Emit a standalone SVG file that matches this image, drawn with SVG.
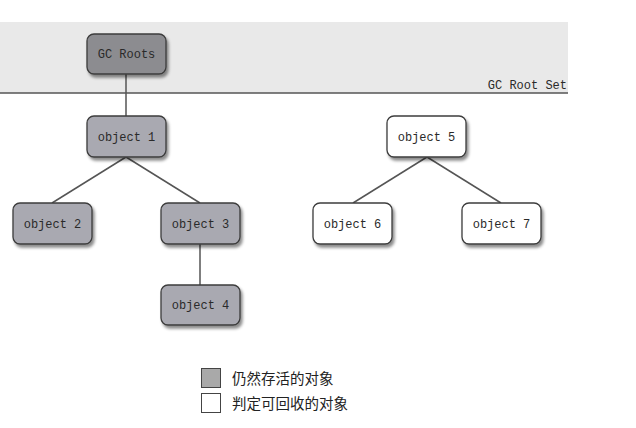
<svg xmlns="http://www.w3.org/2000/svg" width="636" height="428" viewBox="0 0 636 428">
  <defs>
    <filter id="shadow" x="-20%" y="-20%" width="140%" height="150%">
      <feDropShadow dx="2" dy="3" stdDeviation="1.6" flood-color="#000" flood-opacity="0.45"/>
    </filter>
  </defs>
  <style>
    .node rect { stroke: #3c3c3c; stroke-width: 1.3; filter: url(#shadow); }
    .live rect { fill: #a9a9b1; }
    .root rect { fill: #8c8c90; }
    .dead rect { fill: #ffffff; }
    .label { font-family: "Liberation Mono", "DejaVu Sans Mono", monospace; font-size: 12px; fill: #2a2a2a; text-anchor: middle; }
    .edge { stroke: #555; stroke-width: 1.5; fill: none; }
    .legend { font-family: "Noto Sans CJK SC", "Liberation Sans", sans-serif; font-size: 14.5px; fill: #222; }
  </style>
  <rect width="636" height="428" fill="#ffffff"/>
  <!-- root set band -->
  <rect x="0" y="22" width="568" height="71" fill="#e9e9e9"/>
  <line x1="0" y1="93" x2="568" y2="93" stroke="#555" stroke-width="1.5"/>
  <text x="567" y="89" class="label" style="text-anchor:end">GC Root Set</text>

  <g id="connectors">
    <line class="edge" x1="126" y1="73" x2="126" y2="116"/>
    <line class="edge" x1="126" y1="157" x2="52" y2="203"/>
    <line class="edge" x1="126" y1="157" x2="200" y2="203"/>
    <line class="edge" x1="200" y1="244" x2="200" y2="285"/>
    <line class="edge" x1="427" y1="157" x2="353" y2="203"/>
    <line class="edge" x1="427" y1="157" x2="501" y2="203"/>
  </g>

  <g id="gc-roots" class="node root">
    <rect x="87" y="34" width="79" height="40" rx="7"/>
    <text x="126.5" y="58" class="label">GC Roots</text>
  </g>
  <g id="object-1" class="node live">
    <rect x="87" y="116" width="79" height="41" rx="7"/>
    <text x="126.5" y="141" class="label">object 1</text>
  </g>
  <g id="object-2" class="node live">
    <rect x="13" y="203" width="79" height="41" rx="7"/>
    <text x="52.5" y="228" class="label">object 2</text>
  </g>
  <g id="object-3" class="node live">
    <rect x="161" y="203" width="79" height="41" rx="7"/>
    <text x="200.5" y="228" class="label">object 3</text>
  </g>
  <g id="object-4" class="node live">
    <rect x="161" y="285" width="79" height="40" rx="7"/>
    <text x="200.5" y="309" class="label">object 4</text>
  </g>
  <g id="object-5" class="node dead">
    <rect x="387" y="116" width="79" height="41" rx="7"/>
    <text x="426.5" y="141" class="label">object 5</text>
  </g>
  <g id="object-6" class="node dead">
    <rect x="313" y="203" width="79" height="41" rx="7"/>
    <text x="352.5" y="228" class="label">object 6</text>
  </g>
  <g id="object-7" class="node dead">
    <rect x="462" y="203" width="79" height="41" rx="7"/>
    <text x="501.5" y="228" class="label">object 7</text>
  </g>

  <!-- legend -->
  <g id="legend">
    <rect x="201.5" y="368.5" width="19" height="19" fill="#a9a9a9" stroke="#444" stroke-width="1"/>
    <text x="232" y="383.5" class="legend">仍然存活的对象</text>
    <rect x="201.5" y="393.5" width="19" height="19" fill="#ffffff" stroke="#444" stroke-width="1"/>
    <text x="232" y="408.5" class="legend">判定可回收的对象</text>
  </g>
</svg>
